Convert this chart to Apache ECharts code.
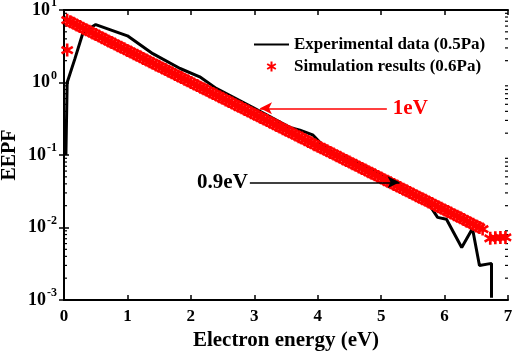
<!DOCTYPE html>
<html>
<head>
<meta charset="utf-8">
<script src="https://cdn.jsdelivr.net/npm/echarts@6/dist/echarts.min.js"></script>
<style>
  html, body { margin: 0; padding: 0; background: #fff; }
  #main { width: 512px; height: 355px; }
</style>
</head>
<body>
<div id="main"></div>
<script>
// experimental EEPF (0.5Pa)
const expX = [0.03, 0.05, 0.17, 0.3, 0.5, 1.0, 1.4, 1.83, 2.14, 2.4, 2.98, 3.56, 3.72, 3.92, 4.14, 4.77, 4.98, 5.29, 5.72, 5.89, 6.03, 6.27, 6.44, 6.55, 6.74, 6.74]
const expY = [0.1, 1.0, 2.1, 4.9, 6.3, 4.4, 2.5, 1.56, 1.2, 0.83, 0.45, 0.24, 0.22, 0.19, 0.12, 0.067, 0.055, 0.038, 0.023, 0.0138, 0.013, 0.0053, 0.0097, 0.003, 0.0032, 0.00107]

// simulation EEPF (0.6Pa)
const simX = [
  0.05, 0.1, 0.15, 0.2, 0.25, 0.3, 0.35, 0.4, 0.45, 0.5, 0.55, 0.6, 0.65, 0.7, 0.75, 0.8, 0.85, 0.9, 0.95, 1.0,
  1.05, 1.1, 1.15, 1.2, 1.25, 1.3, 1.35, 1.4, 1.45, 1.5, 1.55, 1.6, 1.65, 1.7, 1.75, 1.8, 1.85, 1.9, 1.95, 2.0,
  2.05, 2.1, 2.15, 2.2, 2.25, 2.3, 2.35, 2.4, 2.45, 2.5, 2.55, 2.6, 2.65, 2.7, 2.75, 2.8, 2.85, 2.9, 2.95, 3.0,
  3.05, 3.1, 3.15, 3.2, 3.25, 3.3, 3.35, 3.4, 3.45, 3.5, 3.55, 3.6, 3.65, 3.7, 3.75, 3.8, 3.85, 3.9, 3.95, 4.0,
  4.05, 4.1, 4.15, 4.2, 4.25, 4.3, 4.35, 4.4, 4.45, 4.5, 4.55, 4.6, 4.65, 4.7, 4.75, 4.8, 4.85, 4.9, 4.95, 5.0,
  5.05, 5.1, 5.15, 5.2, 5.25, 5.3, 5.35, 5.4, 5.45, 5.5, 5.55, 5.6, 5.65, 5.7, 5.75, 5.8, 5.85, 5.9, 5.95, 6.0,
  6.05, 6.1, 6.15, 6.2, 6.25, 6.3, 6.35, 6.4, 6.45, 6.5, 6.55, 6.6,
  6.72, 6.8, 6.88, 6.96, 0.05
]
const simY = [
  7.24, 6.89, 6.55, 6.22, 5.92, 5.62, 5.35, 5.08, 4.83, 4.59, 4.37, 4.15, 3.94, 3.75, 3.56, 3.39, 3.22, 3.06, 2.91, 2.77,
  2.63, 2.50, 2.38, 2.26, 2.15, 2.04, 1.94, 1.85, 1.75, 1.67, 1.58, 1.51, 1.43, 1.36, 1.29, 1.23, 1.17, 1.11, 1.06, 1.00,
  0.955, 0.908, 0.863, 0.820, 0.780, 0.741, 0.705, 0.670, 0.637, 0.605, 0.575, 0.547, 0.520, 0.494, 0.470, 0.447, 0.425, 0.404, 0.384, 0.365,
  0.347, 0.330, 0.313, 0.298, 0.283, 0.269, 0.256, 0.243, 0.231, 0.220, 0.209, 0.199, 0.189, 0.179, 0.171, 0.162, 0.154, 0.147, 0.139, 0.132,
  0.126, 0.120, 0.114, 0.108, 0.103, 0.0977, 0.0929, 0.0883, 0.0839, 0.0798, 0.0759, 0.0721, 0.0685, 0.0652, 0.0619, 0.0589, 0.0560, 0.0532, 0.0506, 0.0481,
  0.0457, 0.0434, 0.0413, 0.0393, 0.0373, 0.0355, 0.0337, 0.0321, 0.0305, 0.0290, 0.0275, 0.0262, 0.0249, 0.0237, 0.0225, 0.0214, 0.0203, 0.0193, 0.0184, 0.0175,
  0.0166, 0.0158, 0.0150, 0.0143, 0.0136, 0.0129, 0.0122, 0.0116, 0.0111, 0.0105, 0.0100, 0.0095,
  0.0071, 0.0072, 0.0073, 0.0073, 2.8
]

const xTicks = [0, 1, 2, 3, 4, 5, 6, 7]
const legendNames = ['Experimental data (0.5Pa)', 'Simulation results (0.6Pa)']
const yTitle = 'EEPF'

// annotation arrows: [fromX, toX, y, text]
const arrow1 = [5.09, 3.09, 0.44, '1eV']
const arrow2 = [2.93, 5.29, 0.042, '0.9eV']

const FONT = '"Liberation Serif", "Times New Roman", serif'
const STAR = 'path://M-2,-10L2,-10L2,10L-2,10Z' +
  'M7.66,6.73L-9.66,-3.27L-7.66,-6.73L9.66,3.27Z' +
  'M-7.66,6.73L-9.66,3.27L7.66,-6.73L9.66,-3.27Z'

// minor tick values for the log axis (2..9 in each decade)
const minorVals = []
for (let d = -3; d < 1; d++) {
  for (let m = 2; m <= 9; m++) minorVals.push(m * Math.pow(10, d))
}

function yLabel(v) {
  const e = Math.round(Math.log10(v))
  return '{b|10}{s|' + e + '}'
}

function makeOption() {
  const axisLine = { show: true, lineStyle: { color: '#000', width: 2 } }
  const tick = { show: true, inside: true, length: 5, lineStyle: { color: '#000', width: 1.5 } }
  return {
    animation: false,
    textStyle: { fontFamily: FONT },
    grid: { left: 64, right: 4, top: 10, bottom: 55, containLabel: false, outerBoundsMode: 'none' },
    // y axis title, rotated, left of the tick labels
    graphic: [{
      type: 'text',
      x: 10, y: 155,
      rotation: Math.PI / 2,
      style: { text: yTitle, align: 'center', verticalAlign: 'middle',
        font: 'bold 20px ' + FONT, fill: '#000' }
    }],
    legend: {
      data: [
        { name: legendNames[0], itemStyle: { opacity: 0 } },
        { name: legendNames[1] }
      ],
      left: 248,
      top: 31,
      orient: 'vertical',
      itemWidth: 35,
      itemHeight: 10,
      itemGap: 5,
      textStyle: { fontFamily: FONT, fontWeight: 'bold', fontSize: 17, color: '#000' }
    },
    xAxis: [{
      type: 'value',
      min: 0, max: 7, interval: 1,
      name: 'Electron energy (eV)',
      nameLocation: 'middle',
      nameGap: 27,
      nameTextStyle: { fontFamily: FONT, fontWeight: 'bold', fontSize: 21, color: '#000' },
      axisLine: axisLine,
      axisTick: tick,
      splitLine: { show: false },
      axisLabel: { fontFamily: FONT, fontWeight: 'bold', fontSize: 17, color: '#000', margin: 8,
        formatter: v => xTicks.indexOf(v) >= 0 ? String(v) : '' }
    }, {
      type: 'value', position: 'top',
      min: 0, max: 7, interval: 1,
      axisLine: axisLine, axisTick: tick,
      axisLabel: { show: false }, splitLine: { show: false }
    }],
    yAxis: [{
      type: 'log', logBase: 10,
      min: 0.001, max: 10,
      axisLine: axisLine,
      axisTick: tick,
      splitLine: { show: false },
      axisLabel: {
        margin: 7,
        formatter: yLabel,
        rich: {
          b: { fontFamily: FONT, fontWeight: 'bold', fontSize: 18, color: '#000' },
          s: { fontFamily: FONT, fontWeight: 'bold', fontSize: 12, color: '#000', padding: [0, 0, 14, 1] }
        }
      }
    }, {
      type: 'log', logBase: 10, position: 'right',
      min: 0.001, max: 10,
      axisLine: axisLine, axisTick: tick,
      axisLabel: { show: false }, splitLine: { show: false }
    }],
    series: [
      {
        name: legendNames[0],
        type: 'line',
        data: expX.map((x, i) => [x, expY[i]]),
        symbol: 'none',
        lineStyle: { color: '#000', width: 3 },
        itemStyle: { color: '#000' },
        z: 3,
        markLine: {
          silent: true,
          symbol: ['none', 'arrow'],
          symbolSize: [9, 12],
          lineStyle: { color: '#000', width: 1.5, type: 'solid' },
          label: { show: true, position: 'start', formatter: arrow2[3], distance: 2,
            fontFamily: FONT, fontWeight: 'bold', fontSize: 21, color: '#000' },
          data: [[{ coord: [arrow2[0], arrow2[2]] }, { coord: [arrow2[1], arrow2[2]] }]]
        }
      },
      {
        name: legendNames[1],
        type: 'scatter',
        data: simX.map((x, i) => [x, simY[i]]),
        symbol: STAR,
        symbolSize: 13,
        symbolKeepAspect: true,
        itemStyle: { color: '#ff0000', opacity: 1 },
        z: 4,
        markLine: {
          silent: true,
          symbol: ['none', 'arrow'],
          symbolSize: [9, 12],
          lineStyle: { color: '#ff0000', width: 1.5, type: 'solid' },
          label: { show: true, position: 'start', formatter: arrow1[3], distance: 6,
            fontFamily: FONT, fontWeight: 'bold', fontSize: 21, color: '#ff0000' },
          data: [[{ coord: [arrow1[0], arrow1[2]] }, { coord: [arrow1[1], arrow1[2]] }]]
        }
      },
      {
        type: 'custom',
        silent: true,
        clip: false,
        data: minorVals.map(v => [0, v]),
        renderItem: function (params, api) {
          const v = api.value(1)
          const pL = api.coord([0, v])
          const pR = api.coord([7, v])
          return {
            type: 'group',
            children: [
              { type: 'line', shape: { x1: pL[0], y1: pL[1], x2: pL[0] + 3, y2: pL[1] }, style: { stroke: '#000', lineWidth: 1.2 } },
              { type: 'line', shape: { x1: pR[0], y1: pR[1], x2: pR[0] - 3, y2: pR[1] }, style: { stroke: '#000', lineWidth: 1.2 } }
            ]
          }
        }
      }
    ]
  }
}

const chart = echarts.init(document.getElementById('main'))
chart.setOption(makeOption())
</script>
</body>
</html>
